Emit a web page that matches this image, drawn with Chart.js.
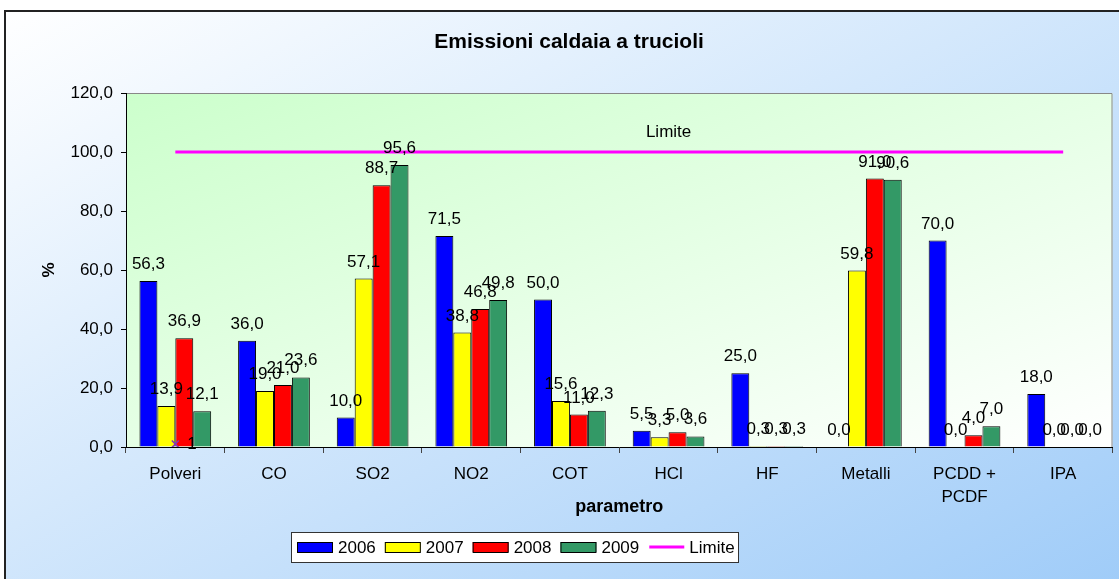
<!DOCTYPE html>
<html>
<head>
<meta charset="utf-8">
<script src="https://cdn.jsdelivr.net/npm/chart.js@4.4.0/dist/chart.umd.min.js"></script>
<style>
    html, body { margin: 0; padding: 0; background: #fff; overflow: hidden; }
    #wrap { width: 1119px; height: 579px; position: relative; }
</style>
</head>
<body>
<div id="wrap"><canvas id="grafico"></canvas></div>
<script>
// dati
const parametri = ['Polveri', 'CO', 'SO2', 'NO2', 'COT', 'HCl', 'HF', 'Metalli', ['PCDD +', 'PCDF'], 'IPA'];
const anni = ['2006', '2007', '2008', '2009'];
const valori2006 = [56.3, 36.0, 10.0, 71.5, 50.0, 5.5, 25.0, 0.0, 70.0, 18.0];
const valori2007 = [13.9, 19.0, 57.1, 38.8, 15.6, 3.3, 0.3, 59.8, 0.0, 0.0];
const valori2008 = [36.9, 21.0, 88.7, 46.8, 11.0, 5.0, 0.3, 91.0, 4.0, 0.0];
const valori2009 = [12.1, 23.6, 95.6, 49.8, 12.3, 3.6, 0.3, 90.6, 7.0, 0.0];
const limite = [100, 100, 100, 100, 100, 100, 100, 100, 100, 100];
const puntoExtra = [1, null, null, null, null, null, null, null, null, null];
const tickY = [0, 20, 40, 60, 80, 100, 120];

const FONT = '"Liberation Sans", Arial, sans-serif';
Chart.defaults.font.family = FONT;
Chart.defaults.font.size = 17;
Chart.defaults.color = '#000';

function virgola(v) {
    return v.toFixed(1).replace('.', ',');
}

// sfondo esterno, cornice e area del grafico
const sfondoPlugin = {
    id: 'sfondo',
    beforeDraw: function(chart) {
        const ctx = chart.ctx;
        const a = chart.chartArea;
        ctx.save();
        ctx.fillStyle = '#fff';
        ctx.fillRect(0, 0, chart.width, chart.height);

        ctx.save();
        ctx.translate(4, 10);
        ctx.scale(1150, 600);
        let g = ctx.createLinearGradient(0, 0, 1, 1);
        g.addColorStop(0, '#ffffff');
        g.addColorStop(1, '#9ccaf8');
        ctx.fillStyle = g;
        ctx.fillRect(0, 0, 1, 1);
        ctx.restore();

        ctx.strokeStyle = '#222';
        ctx.lineWidth = 2;
        ctx.beginPath();
        ctx.moveTo(5, chart.height);
        ctx.lineTo(5, 11);
        ctx.lineTo(chart.width, 11);
        ctx.stroke();

        ctx.save();
        ctx.translate(a.left, a.top);
        ctx.scale(a.right - a.left, a.bottom - a.top);
        g = ctx.createLinearGradient(0, 0, 1, 1);
        g.addColorStop(0, '#ccffcc');
        g.addColorStop(1, '#ffffff');
        ctx.fillStyle = g;
        ctx.fillRect(0, 0, 1, 1);
        ctx.restore();

        ctx.strokeStyle = '#888';
        ctx.lineWidth = 1;
        ctx.beginPath();
        ctx.moveTo(a.left, a.top + 0.5);
        ctx.lineTo(a.right - 0.5, a.top + 0.5);
        ctx.lineTo(a.right - 0.5, a.bottom);
        ctx.stroke();
        ctx.restore();
    }
};

// etichette dei valori sopra le barre
const etichettePlugin = {
    id: 'etichette',
    afterDatasetsDraw: function(chart) {
        const ctx = chart.ctx;
        ctx.save();
        ctx.font = '17px ' + FONT;
        ctx.fillStyle = '#000';
        ctx.textAlign = 'center';
        ctx.textBaseline = 'alphabetic';
        for (let i = 0; i < 4; i++) {
            const meta = chart.getDatasetMeta(i);
            meta.data.forEach(function(bar, j) {
                ctx.fillText(virgola(chart.data.datasets[i].data[j]), bar.x, bar.y - 12);
            });
        }
        // etichetta della linea limite
        const p = chart.getDatasetMeta(4).data[5];
        ctx.fillText(chart.data.datasets[4].label, p.x, p.y - 15);

        // punto extra con etichetta "1"
        const q = chart.getDatasetMeta(5).data[0];
        ctx.textAlign = 'left';
        ctx.textBaseline = 'middle';
        ctx.fillText(String(puntoExtra[0]), q.x + 12, q.y);
        ctx.restore();
    }
};

// titolo e legenda disegnati a mano
const titoloLegendaPlugin = {
    id: 'titoloLegenda',
    afterDraw: function(chart) {
        const ctx = chart.ctx;
        ctx.save();
        ctx.font = 'bold 21px ' + FONT;
        ctx.fillStyle = '#000';
        ctx.textAlign = 'center';
        ctx.textBaseline = 'middle';
        ctx.fillText('Emissioni caldaia a trucioli', 569, 42);

        // riquadro legenda
        ctx.fillStyle = '#fff';
        ctx.fillRect(291, 532, 447, 30);
        ctx.strokeStyle = '#333';
        ctx.lineWidth = 1;
        ctx.strokeRect(291.5, 532.5, 447, 30);

        ctx.font = '17px ' + FONT;
        ctx.textAlign = 'left';
        let x = 297;
        const yc = 547;
        for (let i = 0; i < 5; i++) {
            const ds = chart.data.datasets[i];
            if (ds.type === 'line') {
                ctx.strokeStyle = ds.borderColor;
                ctx.lineWidth = 3;
                ctx.beginPath();
                ctx.moveTo(x + 1, yc);
                ctx.lineTo(x + 36, yc);
                ctx.stroke();
            } else {
                ctx.fillStyle = ds.backgroundColor;
                ctx.fillRect(x, yc - 5, 36, 10);
                ctx.strokeStyle = '#000';
                ctx.lineWidth = 1;
                ctx.strokeRect(x + 0.5, yc - 4.5, 35, 10);
            }
            ctx.fillStyle = '#000';
            ctx.fillText(ds.label, x + 41, yc + 1);
            x += 41 + ctx.measureText(ds.label).width + 9;
        }
        ctx.restore();
    }
};

const ctx = document.getElementById('grafico');
const grafico = new Chart(ctx, {
    type: 'bar',
    data: {
        labels: parametri,
        datasets: [
            {
                label: anni[0],
                data: valori2006,
                backgroundColor: '#0000ff',
                borderColor: '#000',
                borderWidth: 1
            },
            {
                label: anni[1],
                data: valori2007,
                backgroundColor: '#ffff00',
                borderColor: '#000',
                borderWidth: 1
            },
            {
                label: anni[2],
                data: valori2008,
                backgroundColor: '#ff0000',
                borderColor: '#000',
                borderWidth: 1
            },
            {
                label: anni[3],
                data: valori2009,
                backgroundColor: '#339966',
                borderColor: '#000',
                borderWidth: 1
            },
            {
                type: 'line',
                label: 'Limite',
                data: limite,
                borderColor: '#ff00ff',
                borderWidth: 3,
                pointRadius: 0,
                fill: false
            },
            {
                // punto isolato sopra le barre
                type: 'line',
                label: '',
                data: puntoExtra,
                order: -1,
                showLine: false,
                pointStyle: 'crossRot',
                pointRadius: 5,
                borderColor: '#8833bb',
                borderWidth: 1.5
            }
        ]
    },
    options: {
        responsive: true,
        maintainAspectRatio: false,
        animation: false,
        layout: {
            padding: { left: 36, top: 93, right: 3, bottom: 60 }
        },
        datasets: {
            bar: {
                categoryPercentage: 0.727,
                barPercentage: 1
            }
        },
        scales: {
            x: {
                grid: {
                    display: true,
                    drawOnChartArea: false,
                    tickLength: 6,
                    color: '#444'
                },
                border: { color: '#000', width: 1 },
                ticks: {
                    padding: 10,
                    maxRotation: 0,
                    autoSkip: false,
                    font: { size: 17, lineHeight: 1.35 }
                },
                title: {
                    display: true,
                    text: 'parametro',
                    font: { size: 18, weight: 'bold' },
                    padding: { top: 0, bottom: 1 }
                },
                afterFit: function(scale) {
                    scale.height = 72;
                }
            },
            y: {
                min: 0,
                max: 120,
                grid: {
                    display: true,
                    drawOnChartArea: false,
                    tickLength: 5,
                    color: '#000'
                },
                border: { color: '#000', width: 1 },
                ticks: {
                    padding: 8,
                    font: { size: 17 },
                    callback: function(v) { return virgola(v); }
                },
                afterBuildTicks: function(scale) {
                    scale.ticks = tickY.map(function(v) { return { value: v }; });
                },
                title: {
                    display: true,
                    text: '%',
                    font: { size: 17, weight: 'bold' },
                    padding: { top: 3, bottom: 0 }
                },
                afterFit: function(scale) {
                    scale.width = 90;
                }
            }
        },
        plugins: {
            legend: { display: false },
            title: { display: false },
            tooltip: { enabled: false }
        }
    },
    plugins: [sfondoPlugin, etichettePlugin, titoloLegendaPlugin]
});
</script>
</body>
</html>
